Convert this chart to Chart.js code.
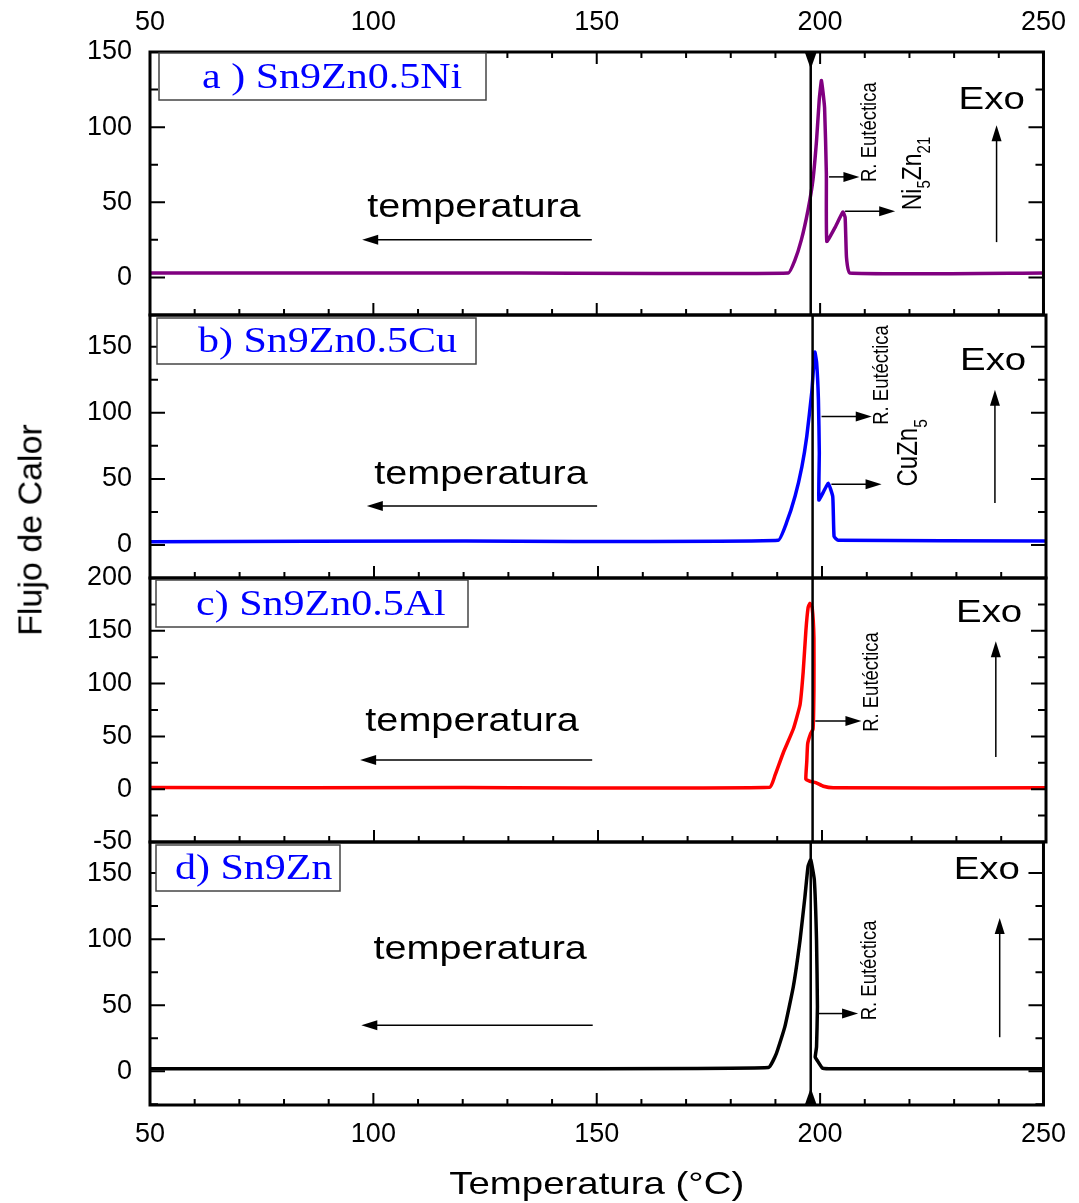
<!DOCTYPE html>
<html>
<head>
<meta charset="utf-8">
<script src="https://cdn.jsdelivr.net/npm/chart.js@4.4.0/dist/chart.umd.min.js"></script>
<style>
    body { margin: 0; background: #fff; }
    #wrap { position: relative; width: 1079px; height: 1203px; overflow: hidden; }
    #wrap canvas { position: absolute; left: 0; }
    #yTitle {
        position: absolute; left: 30px; top: 530px;
        transform: translate(-50%, -50%) rotate(-90deg);
        font: 34px 'Liberation Sans', Arial, sans-serif; white-space: nowrap; color: #000;
    }
</style>
</head>
<body>
<div id="wrap">
    <canvas id="panelA" width="1079" height="350" style="top:0"></canvas>
    <canvas id="panelB" width="1079" height="333" style="top:280px"></canvas>
    <canvas id="panelC" width="1079" height="334" style="top:543px"></canvas>
    <canvas id="panelD" width="1079" height="396" style="top:807px"></canvas>
    <div id="yTitle">Flujo de Calor</div>
</div>
<script>
// DSC cooling curves, heat flow vs temperature
const xTickLabels = [50, 100, 150, 200, 250];
const markerTemp = 197.9;

// a) Sn9Zn0.5Ni
const tempA = [50, 120, 192.9, 194.3, 195.8, 197.3, 198.4, 199.2, 199.8, 200.3, 201.0, 201.4, 201.5, 203.3, 205.1, 205.6, 205.9, 206.6, 250];
const flowA = [3, 3, 3, 11, 25, 45, 65, 91, 118, 131, 113, 69, 24, 33, 43.5, 40, 13.5, 3, 3];

// b) Sn9Zn0.5Cu
const tempB = [50, 120, 190.2, 192.1, 194.0, 195.5, 196.6, 197.7, 198.4, 198.8, 199.2, 199.4, 199.3, 200.3, 201.4, 202.4, 202.7, 203.6, 250];
const flowB = [2.5, 3, 3.5, 17, 37, 59, 82, 115, 146, 138, 110, 70, 34, 40, 46.7, 36.6, 6.3, 3.5, 3];

// c) Sn9Zn0.5Al
const tempC = [50, 120, 188.4, 189.5, 191.4, 193.6, 195.1, 195.8, 196.4, 196.9, 197.3, 197.8, 198.2, 198.2, 198.0, 197.4, 196.8, 196.6, 196.4, 197.3, 198.6, 200.3, 202.5, 250];
const flowC = [1.5, 1.5, 1.9, 13, 35, 57, 80, 111, 150, 172, 176, 172, 143, 95, 57, 52, 43, 26, 9.4, 7.5, 6.3, 2.8, 1.3, 1.3];

// d) Sn9Zn
const tempD = [50, 120, 188.4, 190.2, 192.1, 194.0, 195.5, 196.6, 197.3, 197.9, 198.7, 199.2, 199.4, 199.2, 198.9, 199.3, 200.5, 202.0, 250];
const flowD = [2, 2, 2.8, 13.4, 33.6, 64, 99, 132, 155, 160, 145, 99, 48.7, 18.5, 10.6, 8.5, 2.5, 2, 2];

const yTicksA = [0, 50, 100, 150];
const yTicksB = [0, 50, 100, 150];
const yTicksC = [-50, 0, 50, 100, 150, 200];
const yTicksD = [0, 50, 100, 150];

const SANS = "'Liberation Sans', Arial, sans-serif";
const SERIF = "'Liberation Serif', 'Times New Roman', serif";
const STRETCH = 1.2;

function arrow(ctx, x1, y1, x2, y2) {
    const ang = Math.atan2(y2 - y1, x2 - x1), L = 16, W = 5;
    const c = Math.cos(ang), s = Math.sin(ang);
    ctx.lineWidth = 1.5;
    ctx.beginPath();
    ctx.moveTo(x1, y1);
    ctx.lineTo(x2 - L * 0.8 * c, y2 - L * 0.8 * s);
    ctx.stroke();
    ctx.beginPath();
    ctx.moveTo(x2, y2);
    ctx.lineTo(x2 - L * c + W * s, y2 - L * s - W * c);
    ctx.lineTo(x2 - L * c - W * s, y2 - L * s + W * c);
    ctx.closePath();
    ctx.fill();
}

function wideText(ctx, text, x, y, font, color, align) {
    ctx.save();
    ctx.translate(x, y);
    ctx.scale(STRETCH, 1);
    ctx.font = font;
    ctx.fillStyle = color;
    ctx.textAlign = align || 'center';
    ctx.textBaseline = 'middle';
    ctx.fillText(text, 0, 0);
    ctx.restore();
}

// rotated note, x = baseline position, y = start of text
function rotatedNote(ctx, parts, x, y, size) {
    ctx.save();
    ctx.translate(x, y);
    ctx.scale(STRETCH, 1);
    ctx.rotate(-Math.PI / 2);
    ctx.fillStyle = '#000';
    ctx.textAlign = 'left';
    ctx.textBaseline = 'alphabetic';
    let pos = 0;
    parts.forEach(([t, sub]) => {
        const fs = sub ? size * 0.65 : size;
        ctx.font = fs + 'px ' + SANS;
        ctx.fillText(t, pos, sub ? 8 : 0);
        pos += ctx.measureText(t).width;
    });
    ctx.restore();
}

const decorPlugin = {
    id: 'decor',
    afterDatasetsDraw(chart, args, o) {
        const { ctx, chartArea: a, scales: { x, y } } = chart;
        ctx.save();
        ctx.strokeStyle = '#000';
        ctx.fillStyle = '#000';

        // vertical marker line
        const vx = x.getPixelForValue(markerTemp);
        ctx.lineWidth = 2.5;
        ctx.beginPath(); ctx.moveTo(vx, a.top); ctx.lineTo(vx, a.bottom); ctx.stroke();
        if (o.markerTop) {
            ctx.beginPath(); ctx.moveTo(vx - 6, a.top); ctx.lineTo(vx + 6, a.top); ctx.lineTo(vx, a.top + 17); ctx.closePath(); ctx.fill();
        }
        if (o.markerBottom) {
            ctx.beginPath(); ctx.moveTo(vx - 6, a.bottom); ctx.lineTo(vx + 6, a.bottom); ctx.lineTo(vx, a.bottom - 17); ctx.closePath(); ctx.fill();
        }

        // inward ticks
        ctx.lineWidth = 2;
        ctx.beginPath();
        for (let t = x.min; t <= x.max; t += 10) {
            const px = x.getPixelForValue(t);
            const len = t % 50 === 0 ? 12 : 6;
            ctx.moveTo(px, a.bottom); ctx.lineTo(px, a.bottom - len);
            if (o.topTicks) { ctx.moveTo(px, a.top); ctx.lineTo(px, a.top + len); }
        }
        for (let v = Math.ceil(y.min / 25) * 25; v <= y.max; v += 25) {
            const py = y.getPixelForValue(v);
            const len = v % 50 === 0 ? 15 : 8;
            ctx.moveTo(a.left, py); ctx.lineTo(a.left + len, py);
            ctx.moveTo(a.right, py); ctx.lineTo(a.right - len, py);
        }
        ctx.stroke();

        // frame
        ctx.lineWidth = 3;
        ctx.strokeRect(a.left, a.top, a.right - a.left, a.bottom - a.top);

        // sample label box
        const b = o.box;
        ctx.fillStyle = '#fff';
        ctx.fillRect(a.left + b.dx, a.top + b.dy, b.w, b.h);
        ctx.strokeStyle = '#444';
        ctx.lineWidth = 1.5;
        ctx.strokeRect(a.left + b.dx, a.top + b.dy, b.w, b.h);
        wideText(ctx, b.text, a.left + b.dx + b.textDx, a.top + b.dy + b.h / 2 + 2, '35px ' + SERIF, '#0000ff', 'left');
        ctx.strokeStyle = '#000';
        ctx.fillStyle = '#000';

        // Exo
        wideText(ctx, 'Exo', x.getPixelForValue(o.exo.x), y.getPixelForValue(o.exo.y), '32px ' + SANS, '#000');
        const ex = x.getPixelForValue(o.exo.arrowX);
        arrow(ctx, ex, y.getPixelForValue(o.exo.from), ex, y.getPixelForValue(o.exo.to));

        // temperatura
        wideText(ctx, 'temperatura', x.getPixelForValue(o.temp.x), y.getPixelForValue(o.temp.y), '33px ' + SANS, '#000');
        const ty = y.getPixelForValue(o.temp.arrowY);
        arrow(ctx, x.getPixelForValue(o.temp.from), ty, x.getPixelForValue(o.temp.to), ty);

        // rotated notes with arrows
        o.notes.forEach(n => {
            rotatedNote(ctx, n.parts, x.getPixelForValue(n.x), y.getPixelForValue(n.y), n.size);
            const ay = y.getPixelForValue(n.arrow.y);
            arrow(ctx, x.getPixelForValue(n.arrow.from), ay, x.getPixelForValue(n.arrow.to), ay);
        });

        // bottom axis title
        if (o.xTitle) {
            wideText(ctx, o.xTitle, (a.left + a.right) / 2, a.bottom + 80, '32px ' + SANS, '#000');
        }
        ctx.restore();
    }
};

const tickFont = { family: SANS, size: 27 };
// the y axis keeps half a label line plus its tick padding free above and below
const edge = 35;

function makePanel(id, temps, flows, color, yMin, yMax, yTicks, xAxis, pad, decor) {
    const xScale = {
        type: 'linear', min: 50, max: 250,
        display: !!xAxis,
        position: xAxis || 'bottom',
        grid: { display: false, drawTicks: false },
        border: { display: false },
        ticks: { font: tickFont, color: '#000', padding: 13, maxRotation: 0 },
        afterBuildTicks: s => { s.ticks = xTickLabels.map(v => ({ value: v })); }
    };
    if (xAxis) xScale.afterFit = s => { s.height = xAxis === 'top' ? 52 : 98; };

    return new Chart(document.getElementById(id), {
        type: 'scatter',
        data: {
            datasets: [{
                data: temps.map((t, i) => ({ x: t, y: flows[i] })),
                showLine: true,
                borderColor: color,
                borderWidth: 3.5,
                pointRadius: 0,
                tension: 0.12
            }]
        },
        options: {
            responsive: false,
            animation: false,
            layout: { padding: { left: 0, right: 33, top: pad[0], bottom: pad[1] } },
            plugins: { legend: { display: false }, tooltip: { enabled: false }, decor: decor },
            scales: {
                x: xScale,
                y: {
                    min: yMin, max: yMax,
                    grid: { display: false, drawTicks: false },
                    border: { display: false },
                    ticks: { font: tickFont, color: '#000', padding: 18 },
                    afterBuildTicks: s => { s.ticks = yTicks.map(v => ({ value: v })); },
                    afterFit: s => { s.width = 150; }
                }
            }
        },
        plugins: [decorPlugin]
    });
}

const eutectic = [['R. Eutéctica', false]];

makePanel('panelA', tempA, flowA, '#800080', -25, 150, yTicksA, 'top', [0, edge], {
    topTicks: true, markerTop: true,
    box: { dx: 9, dy: 1, w: 327, h: 47, textDx: 43, text: 'a ) Sn9Zn0.5Ni' },
    exo: { x: 238.4, y: 118, arrowX: 239.5, from: 23.5, to: 101.3 },
    temp: { x: 122.5, y: 46, arrowY: 25.1, from: 148.9, to: 97.5 },
    notes: [
        { parts: eutectic, size: 18.5, x: 212.5, y: 63.5, arrow: { y: 66.9, from: 202.0, to: 208.8 } },
        { parts: [['Ni', false], ['5', true], ['Zn', false], ['21', true]], size: 23, x: 222.5, y: 44.7, arrow: { y: 44, from: 205.6, to: 216.8 } }
    ]
});

makePanel('panelB', tempB, flowB, '#0000ff', -25, 174, yTicksB, null, [edge, edge], {
    box: { dx: 7, dy: 3, w: 319, h: 46, textDx: 41, text: 'b) Sn9Zn0.5Cu' },
    exo: { x: 238.2, y: 139.4, arrowX: 238.6, from: 31.8, to: 117.4 },
    temp: { x: 123.9, y: 53, arrowY: 29.5, from: 149.8, to: 98.4 },
    notes: [
        { parts: eutectic, size: 18.5, x: 214.7, y: 90.9, arrow: { y: 97.2, from: 199.9, to: 211.1 } },
        { parts: [['CuZn', false], ['5', true]], size: 24, x: 221.2, y: 44.2, arrow: { y: 46, from: 202.1, to: 213.3 } }
    ]
});

makePanel('panelC', tempC, flowC, '#ff0000', -50, 200, yTicksC, null, [edge, edge], {
    box: { dx: 6, dy: 2, w: 312, h: 47, textDx: 40, text: 'c) Sn9Zn0.5Al' },
    exo: { x: 237.3, y: 166.7, arrowX: 238.8, from: 30.5, to: 140 },
    temp: { x: 121.9, y: 63.8, arrowY: 27.6, from: 148.7, to: 96.9 },
    notes: [
        { parts: eutectic, size: 18.5, x: 212.5, y: 54.3, arrow: { y: 64.5, from: 198.5, to: 208.8 } }
    ]
});

makePanel('panelD', tempD, flowD, '#000000', -25.5, 173.5, yTicksD, 'bottom', [edge, 0], {
    markerBottom: true,
    box: { dx: 6, dy: 3, w: 184, h: 46, textDx: 19, text: 'd) Sn9Zn' },
    exo: { x: 237.3, y: 152.3, arrowX: 240.2, from: 25.8, to: 115.9 },
    temp: { x: 123.9, y: 91.7, arrowY: 34.8, from: 149.1, to: 97.3 },
    notes: [
        { parts: eutectic, size: 18.5, x: 212.5, y: 38.6, arrow: { y: 43.7, from: 199.6, to: 208.5 } }
    ],
    xTitle: 'Temperatura (°C)'
});
</script>
</body>
</html>
